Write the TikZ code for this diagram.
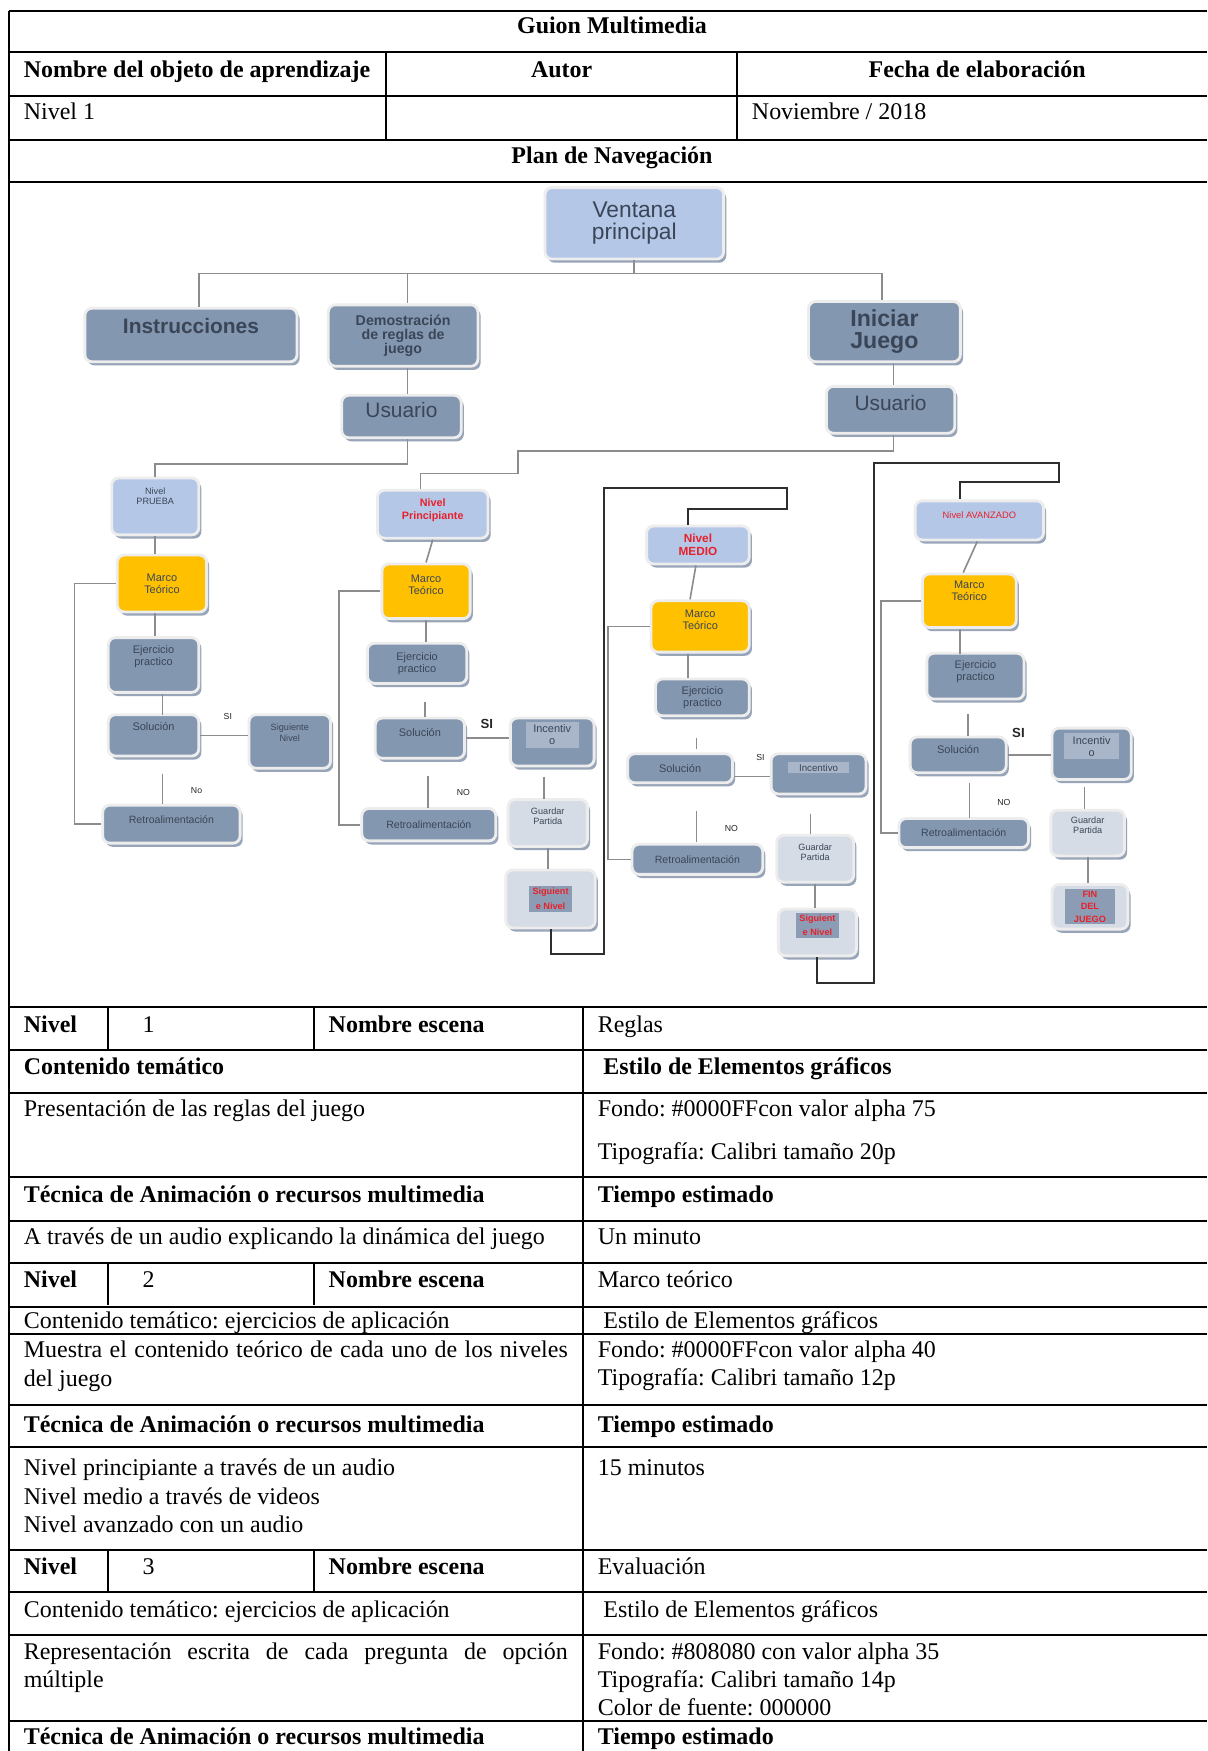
\documentclass[tikz,border=0pt]{standalone}
\usepackage{fontspec}
\setmainfont{Liberation Serif}
\newfontfamily\arialf{Liberation Sans}
\usetikzlibrary{shadows}
\frenchspacing
\definecolor{navyc}{HTML}{8497B0}
\definecolor{lightc}{HTML}{B4C7E7}
\definecolor{marcoc}{HTML}{FFC000}
\definecolor{guardc}{HTML}{D6DCE5}
\definecolor{rimc}{HTML}{EDEDED}
\definecolor{shadc}{HTML}{7F8FA8}
\definecolor{txtc}{HTML}{3A4657}
\definecolor{redc}{HTML}{E8202A}
\definecolor{connc}{HTML}{8C8C8C}
\definecolor{nextc}{HTML}{2E2E2E}
\definecolor{incpc}{HTML}{A9B6C9}
\definecolor{sigpc}{HTML}{8C9CB4}

\begin{document}
\begin{tikzpicture}[x=0.55pt, y=-0.55pt,
  sz/.style 2 args={minimum width=#1*0.55pt, minimum height=#2*0.55pt},
  textup/.style={text depth=#1}]
	\tikzstyle{boxbase}=[
	rectangle,
	rounded corners=3.5pt,
	draw=rimc,
	line width=1.4pt,
	drop shadow={shadow xshift=1.3pt, shadow yshift=-1.8pt, fill=shadc, opacity=.8},
	inner sep=1pt,
	align=center,
	text=txtc,
	font=\arialf\fontsize{5.4}{5.9}\selectfont
	]
	\tikzstyle{navybox}=[boxbase, fill=navyc]
	\tikzstyle{lightbox}=[boxbase, fill=lightc]
	\tikzstyle{marcobox}=[boxbase, fill=marcoc]
	\tikzstyle{guardbox}=[boxbase, fill=guardc, font=\arialf\fontsize{4.5}{5}\selectfont]
	\tikzstyle{conn}=[draw=connc, line width=0.8pt]
	\tikzstyle{nextlvl}=[draw=nextc, line width=0.95pt]
	\tikzstyle{yesno}=[inner sep=0, text=black!85, font=\arialf\fontsize{4.3}{5}\selectfont]
	\tikzstyle{yesnob}=[yesno, font=\arialf\bfseries\fontsize{6.5}{7}\selectfont]
	\tikzstyle{cell}=[anchor=base west, inner sep=0, font=\fontsize{11.8}{14}\selectfont]
	\tikzstyle{cellb}=[cell, font=\bfseries\fontsize{11.8}{14}\selectfont]
	\tikzstyle{cellc}=[cell, anchor=base]
	\tikzstyle{cellbc}=[cellb, anchor=base]
	\tikzstyle{tabline}=[draw=black, line width=1pt]
	\useasboundingbox (0,0) rectangle (1081,1568);
	\fill[white] (0,0) rectangle (1081,1568);
	%
	% table frame
	\foreach \ry in {10,47,86,125,163,902,940,979,1054,1093,1131,1170,1195,1258,1296,1388,1426,1464,1541}
	\draw[tabline] (8,\ry) -- (1081,\ry);
	\draw[tabline] (8,10) -- (8,1568);
	\draw[tabline] (346,47) -- (346,125);
	\draw[tabline] (660,47) -- (660,125);
	\foreach \ry in {902,1131,1388} {
		\draw[tabline] (97,\ry) -- ++(0,38);
		\draw[tabline] (281,\ry) -- ++(0,38);
	}
	\draw[tabline] (522,902) -- (522,1568);
	%
	% header texts
	\node[cellbc] (tTitle) at (548,30) {Guion Multimedia};
	\node[cellb] (tNombre) at (21,69) {Nombre del objeto de aprendizaje};
	\node[cellbc] (tAutor) at (503,69) {Autor};
	\node[cellbc] (tFecha) at (875,69) {Fecha de elaboración};
	\node[cell] (tNivel) at (21,107) {Nivel 1};
	\node[cell] (tFechaVal) at (673,107) {Noviembre / 2018};
	\node[cellbc] (tPlan) at (548,146) {Plan de Navegación};
	%
	% navigation plan
	\node[lightbox, sz={160}{64}, font=\arialf\fontsize{11.2}{10.8}\selectfont] (vent) at (568,200) {Ventana\\principal};
	\node[navybox, sz={190}{48}, textup=8.8pt, font=\arialf\bfseries\fontsize{10.3}{11}\selectfont] (instr) at (171,300) {Instrucciones};
	\node[navybox, sz={134}{55}, font=\arialf\bfseries\fontsize{7}{6.8}\selectfont] (demo) at (361,300.5) {Demostración\\de reglas de\\juego};
	\node[navybox, sz={136}{54}, font=\arialf\bfseries\fontsize{11.4}{10.9}\selectfont] (inic) at (792,297) {Iniciar\\Juego};
	\node[navybox, sz={107}{38}, textup=6.6pt, font=\arialf\fontsize{10.3}{11}\selectfont] (usL) at (359.5,373) {Usuario};
	\node[navybox, sz={115}{42}, textup=6.6pt, font=\arialf\fontsize{10.3}{11}\selectfont] (usR) at (797.5,367) {Usuario};
	%
	% column 1
	\node[lightbox, sz={78}{51}, textup=10.3pt, font=\arialf\fontsize{4.5}{5}\selectfont] (prueba) at (139,453.5) {Nivel\\PRUEBA};
	\node[marcobox, sz={80}{51}] (marco1) at (145,522.5) {Marco\\Teórico};
	\node[navybox, sz={81}{49}, textup=9.5pt] (ejer1) at (137.5,595.5) {Ejercicio\\practico};
	\node[navybox, sz={81}{37}, textup=8.4pt] (sol1) at (137.5,658.5) {Solución};
	\node[navybox, sz={73}{48}, textup=8.7pt, font=\arialf\fontsize{4.5}{5}\selectfont] (sig1) at (259.5,664) {Siguiente\\Nivel};
	\node[navybox, sz={123}{34}, textup=4.4pt, font=\arialf\fontsize{5.2}{5.7}\selectfont] (retro1) at (153.5,738) {Retroalimentación};
	%
	% column 2
	\node[lightbox, sz={99}{43}, textup=5pt, text=redc, font=\arialf\bfseries\fontsize{5.3}{6}\selectfont] (princ) at (387.5,460.5) {Nivel\\Principiante};
	\node[marcobox, sz={79}{49}, textup=6.2pt] (marco2) at (381.5,529.5) {Marco\\Teórico};
	\node[navybox, sz={89}{36}] (ejer2) at (373.5,594) {Ejercicio\\practico};
	\node[navybox, sz={80}{36}, textup=5.6pt] (sol2) at (376,661) {Solución};
	\node[navybox, sz={75}{43}, textup=8.5pt] (inc2) at (494.5,664.5) {\setlength\fboxsep{1.5pt}\colorbox{incpc}{\makebox[23pt]{\shortstack{Incentiv\\o}}}};
	\node[guardbox, sz={71}{42}, textup=6.5pt] (guard2) at (490.5,737) {Guardar\\Partida};
	\node[guardbox, sz={80}{52}] (sig2) at (493,805) {\setlength\fboxsep{1pt}\colorbox{sigpc}{\makebox[19.5pt]{\color{redc}\bfseries\shortstack{Siguient\\e Nivel}}}};
	\node[navybox, sz={120}{29}, font=\arialf\fontsize{5.2}{5.7}\selectfont] (retro2) at (384,738.5) {Retroalimentación};
	%
	% column 3
	\node[lightbox, sz={92}{34}, text=redc, font=\arialf\bfseries\fontsize{5.8}{6.3}\selectfont] (medio) at (625,488) {Nivel\\MEDIO};
	\node[marcobox, sz={88}{46}, textup=6.7pt] (marco3) at (627,561) {Marco\\Teórico};
	\node[navybox, sz={84}{33}] (ejer3) at (629,624.5) {Ejercicio\\practico};
	\node[navybox, sz={94}{26}] (sol3) at (609,688) {Solución};
	\node[navybox, sz={85}{36}, textup=7pt, font=\arialf\fontsize{4.8}{5.3}\selectfont] (inc3) at (733,693) {\setlength\fboxsep{1pt}\colorbox{incpc}{\makebox[28pt]{Incentivo}}};
	\node[guardbox, sz={69}{42}, textup=6.5pt] (guard3) at (730,769) {Guardar\\Partida};
	\node[guardbox, sz={70}{42}, textup=8pt] (sig3) at (732,835) {\setlength\fboxsep{1pt}\colorbox{sigpc}{\makebox[19.5pt]{\color{redc}\bfseries\shortstack{Siguient\\e Nivel}}}};
	\node[navybox, sz={117}{27}, font=\arialf\fontsize{5.2}{5.7}\selectfont] (retro3) at (624.5,769.5) {Retroalimentación};
	%
	% column 4
	\node[lightbox, sz={115}{35}, textup=5.4pt, text=redc, font=\arialf\fontsize{4.6}{5}\selectfont] (avanz) at (877,466) {Nivel AVANZADO};
	\node[marcobox, sz={84}{48}, textup=10pt] (marco4) at (868,538) {Marco\\Teórico};
	\node[navybox, sz={87}{41}, textup=5.1pt] (ejer4) at (873.5,605.5) {Ejercicio\\practico};
	\node[navybox, sz={86}{32}, textup=5.6pt] (sol4) at (858,676) {Solución};
	\node[navybox, sz={71}{46}, textup=9pt] (inc4) at (977.5,675) {\setlength\fboxsep{1.5pt}\colorbox{incpc}{\makebox[24pt]{\shortstack{Incentiv\\o}}}};
	\node[guardbox, sz={66}{41}, textup=7.6pt] (guard4) at (974,746) {Guardar\\Partida};
	\node[guardbox, sz={68}{40}] (fin) at (976,812) {\setlength\fboxsep{1pt}\colorbox{sigpc}{\makebox[23pt]{\color{redc}\bfseries\shortstack{FIN\\DEL\\JUEGO}}}};
	\node[navybox, sz={116}{26}, font=\arialf\fontsize{5.2}{5.7}\selectfont] (retro4) at (863,746) {Retroalimentación};
	%
	% yes / no labels
	\node[yesno] (si1) at (204,642) {SI};
	\node[yesno] (no1) at (176,708) {No};
	\node[yesnob] (si2) at (436,648) {SI};
	\node[yesno] (no2) at (415,710) {NO};
	\node[yesno] (si3) at (681,678) {SI};
	\node[yesno] (no3) at (655,742) {NO};
	\node[yesnob] (si4) at (912,656) {SI};
	\node[yesno] (no4) at (899,719) {NO};
	%
	% top connectors
	\coordinate (busL) at (178,245);
	\coordinate (busD) at (365,245);
	\coordinate (busR) at (790,245);
	\coordinate (usRdrop) at (800,404);
	\coordinate (kPr) at (464,424);
	\draw[conn] (vent.south) -- (vent.south |- busL);
	\draw[conn] (busL |- instr.north) -- (busL) -- (busR) -- (busR |- inic.north);
	\draw[conn] (busD) -- (busD |- demo.north);
	\draw[conn] (demo.south -| busD) -- (busD |- usL.north);
	\draw[conn] (inic.south -| usRdrop) -- (usR.north -| usRdrop);
	\draw[conn] (usL.south -| busD) -- ++(0,22) -| (prueba.north);
	\draw[conn] (usR.south -| usRdrop) -- (usRdrop) -| (kPr) -| ([xshift=-6pt]princ.north);
	%
	% column 1 connectors
	\draw[conn] (prueba.south) -- (prueba.south |- marco1.north);
	\draw[conn] (prueba.south |- marco1.south) -- (prueba.south |- ejer1.north);
	\draw[conn] ([xshift=4.5pt]ejer1.south) -- ++(0,19);
	\draw[conn] (sol1.east) -- (sol1.east -| sig1.west);
	\draw[conn, shorten <=8pt] ([xshift=4.5pt]sol1.south) -- ++(0,42);
	\draw[conn] (marco1.west) -- ++(-37,0) |- (retro1.west);
	%
	% column 2 connectors
	\draw[conn] (princ.south) -- (marco2.north);
	\draw[conn] (marco2.south) -- (marco2.south |- ejer2.north);
	\draw[conn, shorten <=8.5pt] ([xshift=4pt]ejer2.south) -- ++(0,29);
	\draw[conn] (sol2.east) -- (sol2.east -| inc2.west);
	\draw[conn, shorten <=4.5pt] ([xshift=-4pt]inc2.south) -- ++(0,28);
	\draw[conn] (guard2.south) -- (guard2.south |- sig2.north);
	\draw[conn, shorten <=8pt] ([xshift=4pt]sol2.south) -- ++(0,43);
	\draw[conn] (marco2.west) -- ++(-37,0) |- (retro2.west);
	%
	% column 3 connectors
	\draw[conn] ([xshift=-1pt]medio.south) -- ([xshift=-5pt]marco3.north);
	\draw[conn] ([xshift=-6pt]marco3.south) -- ++(0,22);
	\draw[conn, shorten <=10pt] ([xshift=-3pt]ejer3.south) -- ++(0,28);
	\draw[conn] ([yshift=-4pt]sol3.east) -- ++(32,0);
	\draw[conn, shorten <=9pt] ([xshift=-4pt]inc3.south) -- ++(0,35);
	\draw[conn] (guard3.south) -- (guard3.south |- sig3.north);
	\draw[conn, shorten <=13pt] ([xshift=8pt]sol3.south) -- ++(0,52);
	\draw[conn] (marco3.west) -- ++(-37,0) |- (retro3.west);
	%
	% column 4 connectors
	\draw[conn] ([xshift=-1pt]avanz.south) -- ([xshift=-3pt]marco4.north);
	\draw[conn] ([xshift=-4.5pt]marco4.south) -- ++(0,22);
	\draw[conn] ([xshift=5pt]sol4.north) -- ++(0,-19);
	\draw[conn] (sol4.east) -- (sol4.east -| inc4.west);
	\draw[conn, shorten <=3pt] ([xshift=-3.5pt]inc4.south) -- ++(0,25);
	\draw[conn] (guard4.south) -- (guard4.south |- fin.north);
	\draw[conn, shorten <=4.5pt] ([xshift=5.5pt]sol4.south) -- ++(0,39);
	\draw[conn] (marco4.west) -- ++(-36,0) |- (retro4.west);
	%
	% level to level
	\coordinate (j2a) at (541,854);
	\coordinate (j2b) at (541,437);
	\coordinate (j2d) at (705,456);
	\coordinate (j3a) at (783,880);
	\coordinate (j3b) at (783,415);
	\coordinate (j3d) at (948,432);
	\draw[nextlvl] (sig2.south) |- (j2a) -- (j2b) -| (j2d) -| ([xshift=-5pt]medio.north);
	\draw[nextlvl] (sig3.south) |- (j3a) -- (j3b) -| (j3d) -| ([xshift=-9.4pt]avanz.north);
	%
	% scene table
	\node[cellb] (n1) at (21,925) {Nivel};
	\node[cellc] (n1num) at (133,925) {1};
	\node[cellb] (n1esc) at (294,925) {Nombre escena};
	\node[cell] (n1name) at (535,925) {Reglas};
	\node[cellb] (n1cont) at (21,962) {Contenido temático};
	\node[cellb] (n1est) at (540,962) {Estilo de Elementos gráficos};
	\node[cell] (n1body) at (21,1000) {Presentación de las reglas del juego};
	\node[cell] (n1fondo) at (535,1000) {Fondo: \#0000FFcon valor alpha 75};
	\node[cell] (n1tipo) at (535,1038) {Tipografía: Calibri tamaño 20p};
	\node[cellb] (n1tec) at (21,1077) {Técnica de Animación o recursos multimedia};
	\node[cellb] (n1tiem) at (535,1077) {Tiempo estimado};
	\node[cell] (n1audio) at (21,1114) {A través de un audio explicando la dinámica del juego};
	\node[cell] (n1min) at (535,1114) {Un minuto};
	%
	\node[cellb] (n2) at (21,1153) {Nivel};
	\node[cellc] (n2num) at (133,1153) {2};
	\node[cellb] (n2esc) at (294,1153) {Nombre escena};
	\node[cell] (n2name) at (535,1153) {Marco teórico};
	\node[cell] (n2cont) at (21,1190) {Contenido temático: ejercicios de aplicación};
	\node[cell] (n2est) at (540,1190) {Estilo de Elementos gráficos};
	\node[cell] (n2body) at (21,1216) {\makebox[267.9pt][s]{Muestra el contenido teórico de cada uno de los niveles}};
	\node[cell] (n2body2) at (21,1242) {del juego};
	\node[cell] (n2fondo) at (535,1216) {Fondo: \#0000FFcon valor alpha 40};
	\node[cell] (n2tipo) at (535,1241) {Tipografía: Calibri tamaño 12p};
	\node[cellb] (n2tec) at (21,1283) {Técnica de Animación o recursos multimedia};
	\node[cellb] (n2tiem) at (535,1283) {Tiempo estimado};
	\node[cell] (n2a) at (21,1321) {Nivel principiante a través de un audio};
	\node[cell] (n2b) at (21,1347) {Nivel medio a través de videos};
	\node[cell] (n2c) at (21,1372) {Nivel avanzado con un audio};
	\node[cell] (n2min) at (535,1321) {15 minutos};
	%
	\node[cellb] (n3) at (21,1410) {Nivel};
	\node[cellc] (n3num) at (133,1410) {3};
	\node[cellb] (n3esc) at (294,1410) {Nombre escena};
	\node[cell] (n3name) at (535,1410) {Evaluación};
	\node[cell] (n3cont) at (21,1448) {Contenido temático: ejercicios de aplicación};
	\node[cell] (n3est) at (540,1448) {Estilo de Elementos gráficos};
	\node[cell] (n3body) at (21,1486) {\makebox[267.9pt][s]{Representación escrita de cada pregunta de opción}};
	\node[cell] (n3body2) at (21,1511) {múltiple};
	\node[cell] (n3fondo) at (535,1486) {Fondo: \#808080 con valor alpha 35};
	\node[cell] (n3tipo) at (535,1511) {Tipografía: Calibri tamaño 14p};
	\node[cell] (n3color) at (535,1536) {Color de fuente: 000000};
	\node[cellb] (n3tec) at (21,1562) {Técnica de Animación o recursos multimedia};
	\node[cellb] (n3tiem) at (535,1562) {Tiempo estimado};
\end{tikzpicture}
\end{document}
